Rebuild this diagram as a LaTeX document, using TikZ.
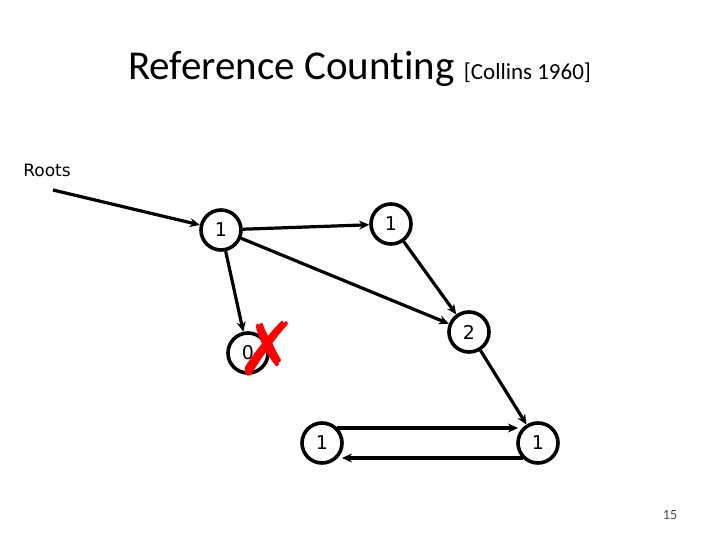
\documentclass[tikz,border=0pt]{standalone}
\usepackage{fontspec}
\setmainfont{Carlito}[Ligatures=NoCommon]
\newfontfamily\vfont{DejaVu Sans}
\usetikzlibrary{arrows.meta,calc}
\begin{document}
\begin{tikzpicture}[x=1pt,y=-1pt,
  refnode/.style={circle,draw,line width=3.6pt,minimum size=40pt,inner sep=0pt,font=\vfont\fontsize{19}{21}\selectfont},
  edge/.style={line width=3.2pt,-{Stealth[length=10pt,width=9pt]}}]
\useasboundingbox (0,0) rectangle (720,540);
\node[anchor=base west,inner sep=0pt] (title) at (128,80) {\fontsize{41}{46}\selectfont Reference Counting {\fontsize{23}{26}\selectfont [Collins 1960]}};
\node[font=\vfont\fontsize{17}{20}\selectfont] (roots) at (47,170) {Roots};
\coordinate (rs) at (53,190);
\node[refnode] (a) at (221,230) {1};
\node[refnode] (b) at (391,224) {1};
\node[refnode] (c) at (469,332) {2};
\node[refnode] (d) at (248,353) {0};
\node[refnode] (e) at (322,443) {1};
\node[refnode] (f) at (538,443) {1};
\draw[edge] (rs) -- (a);
\draw[edge] (a) -- (b);
\draw[edge] (a) -- (c);
\draw[edge] (a) -- (d);
\draw[edge] (b) -- (c);
\draw[edge] (c) -- (f);
\draw[edge] ($(e.center)+(15,-15)$) -- ($(f.center)+(-20,-15)$);
\draw[edge] ($(f.center)+(-15,15)$) -- ($(e.center)+(20,15)$);
\node[text=red,font=\vfont\fontsize{74}{78}\selectfont,inner sep=0pt] (x) at (267,349) {✗};
\node[font=\fontsize{14}{16}\selectfont,text=black!70] (pg) at (670,515) {15};
\end{tikzpicture}
\end{document}
